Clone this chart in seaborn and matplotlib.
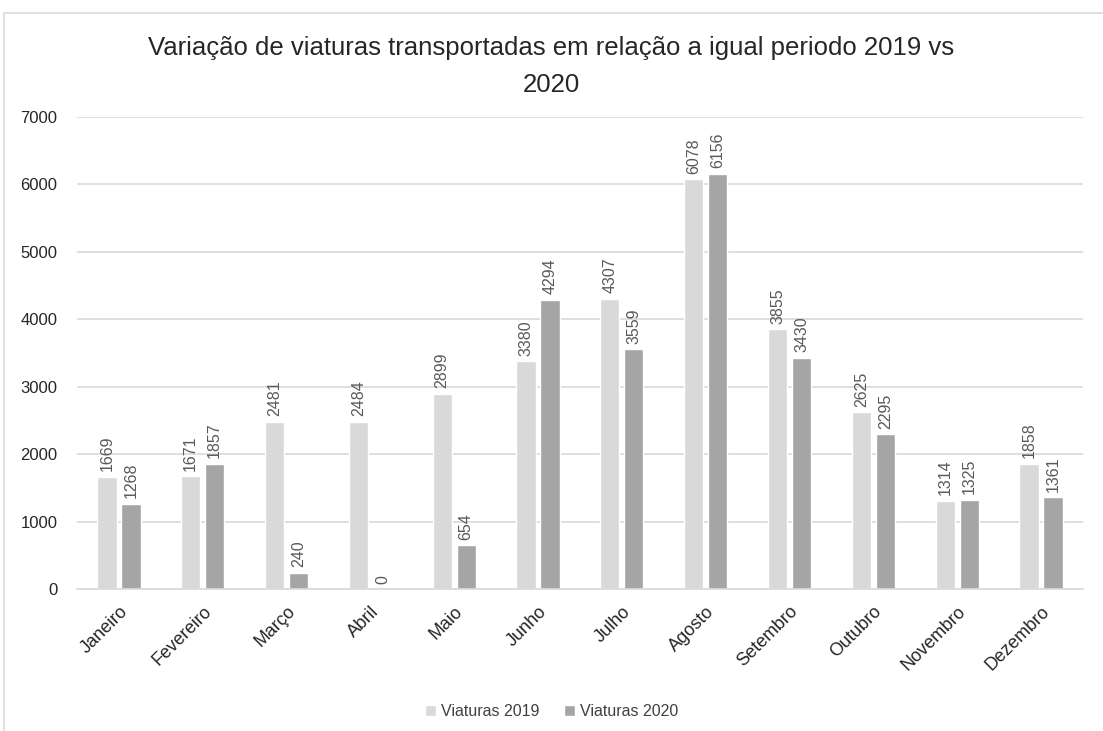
import matplotlib
matplotlib.use("Agg")
import matplotlib.pyplot as plt
import seaborn as sns
import pandas as pd
from matplotlib.patches import Rectangle

months = ["Janeiro", "Fevereiro", "Março", "Abril", "Maio", "Junho", "Julho",
          "Agosto", "Setembro", "Outubro", "Novembro", "Dezembro"]
v2019 = [1669, 1671, 2481, 2484, 2899, 3380, 4307, 6078, 3855, 2625, 1314, 1858]
v2020 = [1268, 1857, 240, 0, 654, 4294, 3559, 6156, 3430, 2295, 1325, 1361]
series = ["Viaturas 2019", "Viaturas 2020"]

df = pd.DataFrame({
    "mes": months * 2,
    "valor": v2019 + v2020,
    "serie": [series[0]] * len(months) + [series[1]] * len(months),
})

sns.set_theme(style="white")
plt.rcParams['font.family'] = ['Liberation Sans', 'DejaVu Sans']

fig = plt.figure(figsize=(11.03, 7.31), dpi=100)
ax = fig.add_axes([0.0698, 0.194, 0.912, 0.646])

palette = {series[0]: "#d9d9d9", series[1]: "#a5a5a5"}
sns.barplot(data=df, x="mes", y="valor", hue="serie", palette=palette,
            width=0.573, gap=0.2, ax=ax, saturation=1, legend=True)

for c in ax.containers:
    ax.bar_label(c, labels=[f"{int(v)}" for v in c.datavalues], rotation=90,
                 padding=4, fontsize=11.5, color="#595959")

ax.set_ylim(0, 7000)
ax.set_yticks(range(0, 7001, 1000))
ax.yaxis.grid(True, color="#d9d9d9", linewidth=1.2)
ax.set_axisbelow(True)
for s in ["top", "right", "left"]:
    ax.spines[s].set_visible(False)
ax.spines["bottom"].set_color("#d9d9d9")
ax.spines["bottom"].set_linewidth(1.2)
ax.set_xlabel("")
ax.set_ylabel("")
ax.tick_params(axis="y", labelsize=12, labelcolor="#262626", length=0, pad=14)
ax.tick_params(axis="x", labelsize=13, labelcolor="#262626", length=0, pad=10)
plt.setp(ax.get_xticklabels(), rotation=45, ha="right", rotation_mode="anchor")

ax.legend(loc="center", bbox_to_anchor=(0.5, 0.026), bbox_transform=fig.transFigure,
          ncol=2, frameon=False, fontsize=11.5, handlelength=0.7, handleheight=0.7,
          handletextpad=0.3, columnspacing=1.5, labelcolor="#404040")

fig.text(0.5, 0.934, "Variação de viaturas transportadas em relação a igual periodo 2019 vs",
         ha="center", va="center", fontsize=18.5, color="#262626")
fig.text(0.5, 0.884, "2020", ha="center", va="center", fontsize=18.5, color="#262626")

fig.patches.append(Rectangle((4 / 1103, -0.01), 1.05, 1 - 13 / 731 + 0.01,
                             transform=fig.transFigure, fill=False,
                             edgecolor="#d9d9d9", linewidth=1.2))

fig.savefig("out.png", dpi=100)
